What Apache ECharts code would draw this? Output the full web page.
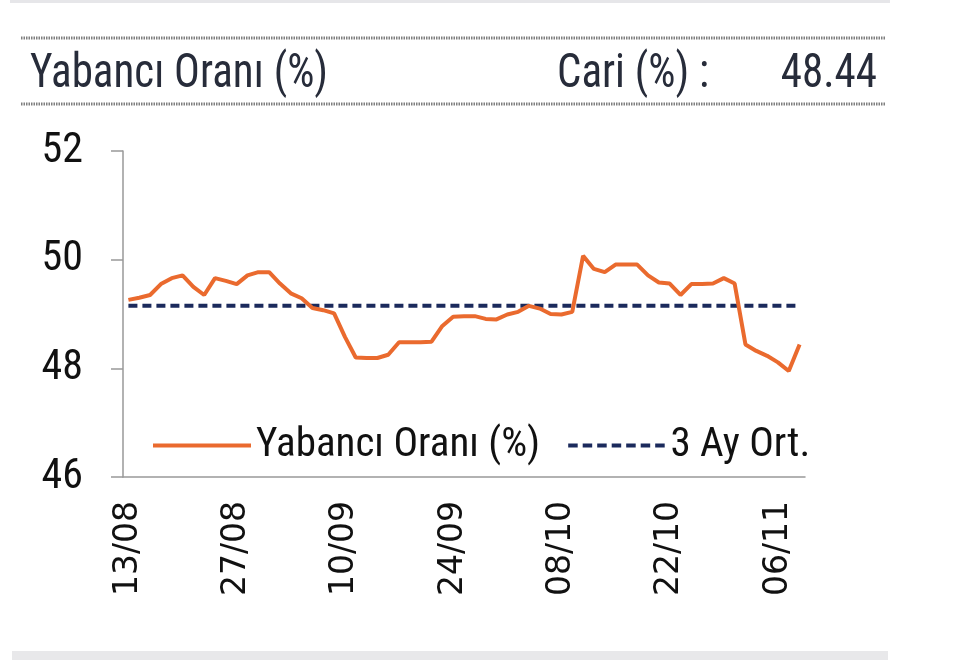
<!DOCTYPE html>
<html>
<head>
<meta charset="utf-8">
<script src="https://cdn.jsdelivr.net/npm/echarts@6/dist/echarts.min.js"></script>
<style>
html,body{margin:0;padding:0;background:#fff;}
#chart{width:960px;height:662px;}
</style>
</head>
<body>
<div id="chart"></div>
<script>
const categories = [
 '13/08','14/08','15/08','16/08','17/08','20/08','21/08','22/08','23/08','24/08',
 '27/08','28/08','29/08','30/08','31/08','03/09','04/09','05/09','06/09','07/09',
 '10/09','11/09','12/09','13/09','14/09','17/09','18/09','19/09','20/09','21/09',
 '24/09','25/09','26/09','27/09','28/09','01/10','02/10','03/10','04/10','05/10',
 '08/10','09/10','10/10','11/10','12/10','15/10','16/10','17/10','18/10','19/10',
 '22/10','23/10','24/10','25/10','26/10','30/10','31/10','01/11','02/11','05/11',
 '06/11','07/11','08/11'
];
const yabanciOrani = [
 49.26,49.30,49.35,49.55,49.66,49.71,49.50,49.35,49.66,49.61,
 49.55,49.71,49.77,49.77,49.56,49.38,49.29,49.11,49.07,49.01,
 48.58,48.20,48.19,48.19,48.25,48.48,48.48,48.48,48.49,48.78,
 48.95,48.96,48.96,48.91,48.90,48.99,49.04,49.15,49.10,49.00,
 48.99,49.04,50.07,49.83,49.77,49.91,49.91,49.91,49.71,49.58,
 49.56,49.35,49.55,49.55,49.56,49.66,49.56,48.44,48.32,48.23,
 48.11,47.95,48.44
];
const ucAyOrt = [
 49.15,49.15,49.15,49.15,49.15,49.15,49.15,49.15,49.15,49.15,
 49.15,49.15,49.15,49.15,49.15,49.15,49.15,49.15,49.15,49.15,
 49.15,49.15,49.15,49.15,49.15,49.15,49.15,49.15,49.15,49.15,
 49.15,49.15,49.15,49.15,49.15,49.15,49.15,49.15,49.15,49.15,
 49.15,49.15,49.15,49.15,49.15,49.15,49.15,49.15,49.15,49.15,
 49.15,49.15,49.15,49.15,49.15,49.15,49.15,49.15,49.15,49.15,
 49.15,49.15,49.15
];
const seriesNames = ['Yabancı Oranı (%)', '3 Ay Ort.'];
const headerTitle = 'Yabancı Oranı (%)';
const headerLabel = 'Cari (%) :';
const headerValue = '48.44';

const NARROW = "'Liberation Sans Narrow','Arial Narrow','Roboto Condensed',sans-serif";
const dashIcon = 'path://M0,0h9.5v4h-9.5z M14.5,0h9.5v4h-9.5z M29,0h9.5v4h-9.5z M43.5,0h9.5v4h-9.5z M58,0h9.5v4h-9.5z M72.5,0h9.5v4h-9.5z M87,0h9.5v4h-9.5z';
const chart = echarts.init(document.getElementById('chart'));
chart.setOption({
  animation: false,
  backgroundColor: '#ffffff',
  graphic: [
    {type:'rect', shape:{x:10,y:0,width:880,height:3}, style:{fill:'#e6e6e9'}},
    {type:'line', shape:{x1:21,y1:38,x2:885,y2:38}, style:{stroke:'#7f7f7f',lineWidth:3,lineDash:[1.5,1]}},
    {type:'line', shape:{x1:21,y1:104,x2:885,y2:104}, style:{stroke:'#7f7f7f',lineWidth:3,lineDash:[1.5,1]}},
    {type:'text', x:30, y:75, scaleY:1.12, style:{text:headerTitle, font:'43px '+NARROW, fill:'#272c3a', verticalAlign:'middle', align:'left'}},
    {type:'text', x:557, y:75, scaleY:1.12, style:{text:headerLabel, font:'43px '+NARROW, fill:'#272c3a', verticalAlign:'middle', align:'left'}},
    {type:'text', x:877, y:75, scaleY:1.12, style:{text:headerValue, font:'43px '+NARROW, fill:'#272c3a', verticalAlign:'middle', align:'right'}},
    {type:'rect', shape:{x:12,y:651,width:876,height:9}, style:{fill:'#e8e8ea'}}
  ],
  grid: {left:123, top:151, width:682, height:326, containLabel:false},
  legend: {
    left: 148, top: 420,
    itemWidth: 98, itemHeight: 4, itemGap: 28,
    textStyle: {fontFamily: NARROW, fontSize: 41, color:'#111', lineHeight: 40},
    data: [
      {name: seriesNames[0], icon: 'rect'},
      {name: seriesNames[1], icon: dashIcon}
    ]
  },
  xAxis: {
    type:'category', data: categories, boundaryGap: true,
    axisLine:{show:true, lineStyle:{color:'#999', width:1.5}},
    axisTick:{show:false},
    axisLabel:{interval:9, rotate:90, margin:24, fontFamily:'DejaVu Sans', fontSize:33, color:'#111'},
    splitLine:{show:false}
  },
  yAxis: {
    type:'value', min:46, max:52, interval:2,
    axisLine:{show:true, lineStyle:{color:'#999', width:1.5}},
    axisTick:{show:true, inside:false, length:12, lineStyle:{color:'#999', width:1.5}},
    axisLabel:{margin:40, fontFamily:NARROW, fontSize:42, color:'#111'},
    splitLine:{show:false}
  },
  series: [
    {name: seriesNames[0], type:'line', data: yabanciOrani, symbol:'none',
     lineStyle:{color:'#ea6a2e', width:4}, itemStyle:{color:'#ea6a2e'}, z:3},
    {name: seriesNames[1], type:'line', data: ucAyOrt, symbol:'none',
     lineStyle:{color:'#1b2a5c', width:4, type:[9,5]}, itemStyle:{color:'#1b2a5c'}, z:2}
  ]
});
</script>
</body>
</html>
